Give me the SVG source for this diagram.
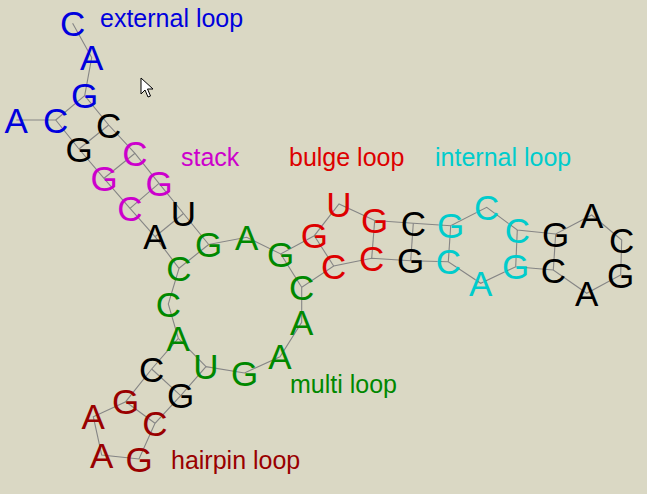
<svg xmlns="http://www.w3.org/2000/svg" width="647" height="494" viewBox="0 0 647 494">
<style>
.bg{fill:#dad8c4}
.bb{fill:none;stroke:#858585;stroke-width:1.1}
.pr{stroke:#858585;stroke-width:1.1}
text{font-family:"Liberation Sans",Arial,sans-serif}
.nt{font-size:35px;text-anchor:middle}
.lb{font-size:25px}
.ext{fill:#0000dd}.stk{fill:#cc00cc}.blg{fill:#dd0000}.int{fill:#00cccc}.mul{fill:#008800}.hp{fill:#990000}.k{fill:#000000}
</style>
<rect class="bg" x="0" y="0" width="647" height="494"/>
<g id="connectors">
<polyline class="bb" points="16.3,120 55.7,120 79,149 104,178.3 130,208.3 155,236.7 179,268.3 168.3,304 178.3,338.3 151.7,369 125.7,401.7 93.3,416.7 101.7,455 139,459 155,423.3 180.7,395.7 206,366.7 244.5,373 280,356.7 301.7,322.3 301.7,287.3 333.7,266 371.7,258.3 410.7,260.7 448.3,261.7 480.7,283.3 515.7,266.7 553.3,270 586.7,293.3 620.7,275 621.7,240 591.7,215 555.7,234 517.3,230 486.7,207.3 450.7,225.7 413.3,223.3 374.7,220.5 339,204 314.3,235.7 280.7,254 246.7,237.3 208.7,244.5 183.5,213.5 159,183.3 135,153.3 108.7,125 84.7,95.7 91.7,57.5 72.6,23.3"/>
<line class="pr" x1="55.7" y1="120" x2="84.7" y2="95.7"/>
<line class="pr" x1="79" y1="149" x2="108.7" y2="125"/>
<line class="pr" x1="104" y1="178.3" x2="135" y2="153.3"/>
<line class="pr" x1="130" y1="208.3" x2="159" y2="183.3"/>
<line class="pr" x1="155" y1="236.7" x2="183.5" y2="213.5"/>
<line class="pr" x1="179" y1="268.3" x2="208.7" y2="244.5"/>
<line class="pr" x1="178.3" y1="338.3" x2="206" y2="366.7"/>
<line class="pr" x1="151.7" y1="369" x2="180.7" y2="395.7"/>
<line class="pr" x1="125.7" y1="401.7" x2="155" y2="423.3"/>
<line class="pr" x1="301.7" y1="287.3" x2="280.7" y2="254"/>
<line class="pr" x1="333.7" y1="266" x2="314.3" y2="235.7"/>
<line class="pr" x1="371.7" y1="258.3" x2="374.7" y2="220.5"/>
<line class="pr" x1="410.7" y1="260.7" x2="413.3" y2="223.3"/>
<line class="pr" x1="448.3" y1="261.7" x2="450.7" y2="225.7"/>
<line class="pr" x1="515.7" y1="266.7" x2="517.3" y2="230"/>
<line class="pr" x1="553.3" y1="270" x2="555.7" y2="234"/>
</g>
<g id="n1"><text class="nt ext" x="16.3" y="132.5">A</text></g>
<g id="n2"><text class="nt ext" x="55.7" y="132.5">C</text></g>
<g id="n3"><text class="nt k" x="79" y="161.5">G</text></g>
<g id="n4"><text class="nt stk" x="104" y="190.8">G</text></g>
<g id="n5"><text class="nt stk" x="130" y="220.8">C</text></g>
<g id="n6"><text class="nt k" x="155" y="249.2">A</text></g>
<g id="n7"><text class="nt mul" x="179" y="280.8">C</text></g>
<g id="n8"><text class="nt mul" x="168.3" y="316.5">C</text></g>
<g id="n9"><text class="nt mul" x="178.3" y="350.8">A</text></g>
<g id="n10"><text class="nt k" x="151.7" y="381.5">C</text></g>
<g id="n11"><text class="nt hp" x="125.7" y="414.2">G</text></g>
<g id="n12"><text class="nt hp" x="93.3" y="429.2">A</text></g>
<g id="n13"><text class="nt hp" x="101.7" y="467.5">A</text></g>
<g id="n14"><text class="nt hp" x="139" y="471.5">G</text></g>
<g id="n15"><text class="nt hp" x="155" y="435.8">C</text></g>
<g id="n16"><text class="nt k" x="180.7" y="408.2">G</text></g>
<g id="n17"><text class="nt mul" x="206" y="379.2">U</text></g>
<g id="n18"><text class="nt mul" x="244.5" y="385.5">G</text></g>
<g id="n19"><text class="nt mul" x="280" y="369.2">A</text></g>
<g id="n20"><text class="nt mul" x="301.7" y="334.8">A</text></g>
<g id="n21"><text class="nt mul" x="301.7" y="299.8">C</text></g>
<g id="n22"><text class="nt blg" x="333.7" y="278.5">C</text></g>
<g id="n23"><text class="nt blg" x="371.7" y="270.8">C</text></g>
<g id="n24"><text class="nt k" x="410.7" y="273.2">G</text></g>
<g id="n25"><text class="nt int" x="448.3" y="274.2">C</text></g>
<g id="n26"><text class="nt int" x="480.7" y="295.8">A</text></g>
<g id="n27"><text class="nt int" x="515.7" y="279.2">G</text></g>
<g id="n28"><text class="nt k" x="553.3" y="282.5">C</text></g>
<g id="n29"><text class="nt k" x="586.7" y="305.8">A</text></g>
<g id="n30"><text class="nt k" x="620.7" y="287.5">G</text></g>
<g id="n31"><text class="nt k" x="621.7" y="252.5">C</text></g>
<g id="n32"><text class="nt k" x="591.7" y="227.5">A</text></g>
<g id="n33"><text class="nt k" x="555.7" y="246.5">G</text></g>
<g id="n34"><text class="nt int" x="517.3" y="242.5">C</text></g>
<g id="n35"><text class="nt int" x="486.7" y="219.8">C</text></g>
<g id="n36"><text class="nt int" x="450.7" y="238.2">G</text></g>
<g id="n37"><text class="nt k" x="413.3" y="235.8">C</text></g>
<g id="n38"><text class="nt blg" x="374.7" y="233">G</text></g>
<g id="n39"><text class="nt blg" x="339" y="216.5">U</text></g>
<g id="n40"><text class="nt blg" x="314.3" y="248.2">G</text></g>
<g id="n41"><text class="nt mul" x="280.7" y="266.5">G</text></g>
<g id="n42"><text class="nt mul" x="246.7" y="249.8">A</text></g>
<g id="n43"><text class="nt mul" x="208.7" y="257">G</text></g>
<g id="n44"><text class="nt k" x="183.5" y="226">U</text></g>
<g id="n45"><text class="nt stk" x="159" y="195.8">G</text></g>
<g id="n46"><text class="nt stk" x="135" y="165.8">C</text></g>
<g id="n47"><text class="nt k" x="108.7" y="137.5">C</text></g>
<g id="n48"><text class="nt ext" x="84.7" y="108.2">G</text></g>
<g id="n49"><text class="nt ext" x="91.7" y="70">A</text></g>
<g id="n50"><text class="nt ext" x="72.6" y="35.8">C</text></g>
<g id="labels">
<text class="lb ext" x="100" y="27">external loop</text>
<text class="lb stk" x="181" y="166">stack</text>
<text class="lb blg" x="289" y="166">bulge loop</text>
<text class="lb int" x="435" y="166">internal loop</text>
<text class="lb mul" x="290" y="393">multi loop</text>
<text class="lb hp" x="171" y="469">hairpin loop</text>
</g>
<path d="M141,78 L141,94 L145,90 L148,97 L150.5,96 L147.5,89 L153,89 Z" fill="#ffffff" stroke="#000000" stroke-width="1"/>
</svg>
